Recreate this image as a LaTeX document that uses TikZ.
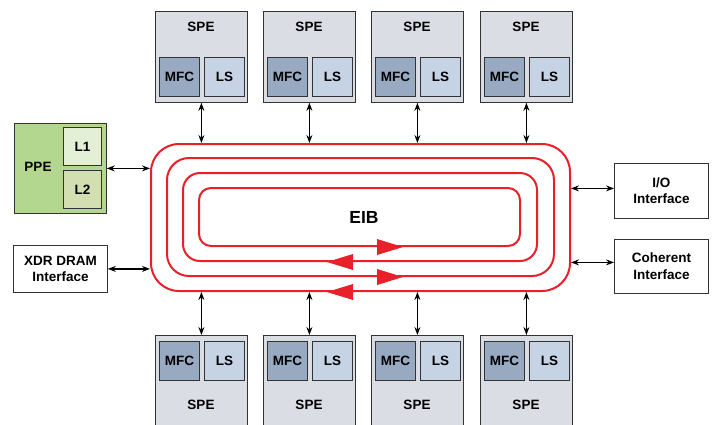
\documentclass[tikz,border=0pt]{standalone}
\usepackage{fontspec}
\setmainfont{Liberation Sans}
\usetikzlibrary{arrows.meta}
\definecolor{spefill}{HTML}{DADDE4}
\definecolor{mfcfill}{HTML}{97AAC2}
\definecolor{lsfill}{HTML}{C6D3E5}
\definecolor{ppefill}{HTML}{B3D78F}
\definecolor{lonefill}{HTML}{E4F0D6}
\definecolor{ltwofill}{HTML}{D3DFB0}
\definecolor{eibred}{HTML}{E8202A}
\definecolor{edge}{HTML}{333333}
\begin{document}
\begin{tikzpicture}[x=1pt,y=-1pt,
  txt/.style={font=\bfseries\fontsize{13.5}{16.5}\selectfont},
  box/.style={draw=edge,line width=0.8pt,inner sep=0pt,anchor=north west},
  spebox/.style={box,fill=spefill,minimum width=92pt},
  mfcbox/.style={box,txt,fill=mfcfill,minimum width=40pt,minimum height=39pt},
  lsbox/.style={box,txt,fill=lsfill,minimum width=40pt,minimum height=39pt},
  lbl/.style={txt,inner sep=0pt},
  ifbox/.style={box,txt,fill=white,align=center},
  ring/.style={draw=eibred,line width=2pt,inner sep=0pt},
  biarrow/.style={{Stealth[length=8pt,width=6pt]}-{Stealth[length=8pt,width=6pt]},line width=1.2pt,black},
]
\useasboundingbox (0,0) rectangle (712,424);

% EIB rings
\node[ring,minimum width=419pt,minimum height=147pt,rounded corners=28pt] (r1) at (360.5,217.5) {};
\node[ring,minimum width=387pt,minimum height=118pt,rounded corners=22pt] (r2) at (360.5,217) {};
\node[ring,minimum width=354pt,minimum height=88pt,rounded corners=17pt] (r3) at (360,217) {};
\node[ring,minimum width=321pt,minimum height=58pt,rounded corners=12pt] (r4) at (359.5,217) {};
\node[font=\bfseries\fontsize{17.5}{20}\selectfont,inner sep=0pt] (eib) at (364,217) {EIB};
% ring arrowheads
\fill[eibred] (r4.south -| 403,0) -- ([yshift=8pt]r4.south -| 377,0) -- ([yshift=-8pt]r4.south -| 377,0) -- cycle;
\fill[eibred] (r3.south -| 327,0) -- ([yshift=8pt]r3.south -| 353,0) -- ([yshift=-8pt]r3.south -| 353,0) -- cycle;
\fill[eibred] (r2.south -| 403,0) -- ([yshift=8pt]r2.south -| 377,0) -- ([yshift=-8pt]r2.south -| 377,0) -- cycle;
\fill[eibred] (r1.south -| 327,0) -- ([yshift=8pt]r1.south -| 353,0) -- ([yshift=-8pt]r1.south -| 353,0) -- cycle;

% top SPEs
\foreach \i/\x in {1/155,2/263,3/371,4/480}{
  \node[spebox,minimum height=91pt] (ts\i) at (\x,11) {};
  \node[lbl] (tsl\i) at (\x+46,27) {SPE};
  \node[mfcbox] (tm\i) at (\x+4,57) {MFC};
  \node[lsbox] (tl\i) at (\x+49,57) {LS};
  \draw[biarrow] (ts\i.south) -- (ts\i.south |- r1.north);
}
% bottom SPEs
\foreach \i/\x in {1/155,2/263,3/371,4/480}{
  \node[spebox,minimum height=95pt] (bs\i) at (\x,335) {};
  \node[lbl] (bsl\i) at (\x+46,405) {SPE};
  \node[mfcbox] (bm\i) at (\x+4,341) {MFC};
  \node[lsbox] (bl\i) at (\x+49,341) {LS};
  \draw[biarrow] (bs\i.north) -- (bs\i.north |- r1.south);
}

% PPE
\node[box,fill=ppefill,minimum width=92pt,minimum height=90pt] (ppe) at (14,123) {};
\node[lbl] (ppel) at (38,167) {PPE};
\node[box,txt,fill=lonefill,minimum width=38pt,minimum height=38pt] (l1) at (63,127) {L1};
\node[box,txt,fill=ltwofill,minimum width=38pt,minimum height=38pt] (l2) at (63,170) {L2};
\draw[biarrow] (ppe.east) -- (ppe.east -| r1.west);

% interfaces
\node[ifbox,minimum width=94pt,minimum height=47pt] (xdr) at (13,245) {XDR DRAM\\Interface};
\draw[biarrow] (xdr.east) -- (xdr.east -| r1.west);
\node[ifbox,minimum width=94pt,minimum height=55pt] (io) at (614,163) {I/O\\Interface};
\draw[biarrow] ([yshift=2.5pt]io.west) -- ([yshift=2.5pt]io.west -| r1.east);
\node[ifbox,minimum width=94pt,minimum height=54pt] (coh) at (614,239) {Coherent\\Interface};
\draw[biarrow] ([yshift=4pt]coh.west) -- ([yshift=4pt]coh.west -| r1.east);
\end{tikzpicture}
\end{document}
